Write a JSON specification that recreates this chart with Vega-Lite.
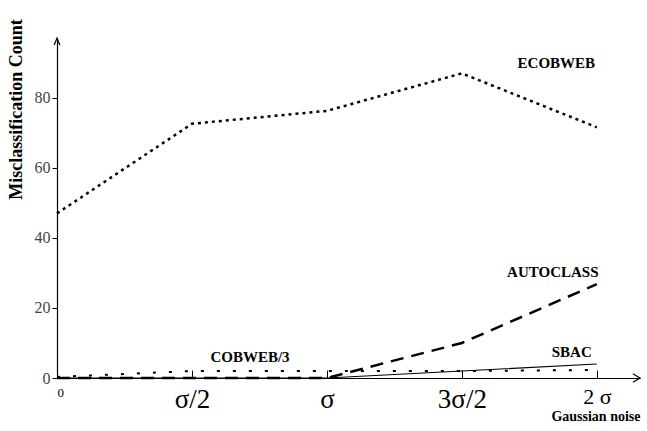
{
  "$schema": "https://vega.github.io/schema/vega-lite/v6.json",
  "width": 583,
  "height": 340,
  "autosize": {"type": "none"},
  "padding": {"left": 57, "top": 38, "right": 7, "bottom": 53},
  "config": {"view": {"stroke": null}, "font": "Liberation Serif"},
  "datasets": {
    "lines": [
      {"series": "ECOBWEB", "x": 0, "y": 47},
      {"series": "ECOBWEB", "x": 0.5, "y": 72.6},
      {"series": "ECOBWEB", "x": 1, "y": 76.3},
      {"series": "ECOBWEB", "x": 1.5, "y": 87},
      {"series": "ECOBWEB", "x": 2, "y": 71.6},
      {"series": "AUTOCLASS", "x": 0, "y": 0},
      {"series": "AUTOCLASS", "x": 0.5, "y": 0},
      {"series": "AUTOCLASS", "x": 1, "y": 0},
      {"series": "AUTOCLASS", "x": 1.5, "y": 10},
      {"series": "AUTOCLASS", "x": 2, "y": 26.8},
      {"series": "SBAC", "x": 0, "y": 0},
      {"series": "SBAC", "x": 0.5, "y": 0},
      {"series": "SBAC", "x": 1, "y": 0},
      {"series": "SBAC", "x": 1.5, "y": 2},
      {"series": "SBAC", "x": 2, "y": 4},
      {"series": "COBWEB/3", "x": 0, "y": 0.3},
      {"series": "COBWEB/3", "x": 0.5, "y": 2},
      {"series": "COBWEB/3", "x": 1, "y": 2},
      {"series": "COBWEB/3", "x": 1.5, "y": 2},
      {"series": "COBWEB/3", "x": 2, "y": 2.3}
    ],
    "labels": [
      {"text": "ECOBWEB", "x": 1.85, "y": 90},
      {"text": "AUTOCLASS", "x": 1.837, "y": 30.3},
      {"text": "SBAC", "x": 1.907, "y": 7.4},
      {"text": "COBWEB/3", "x": 0.715, "y": 6}
    ],
    "arrows": [
      {"axis": "x", "x": 2.16, "y": 0},
      {"axis": "y", "x": 0, "y": 97.1}
    ]
  },
  "encoding": {
    "x": {
      "field": "x", "type": "quantitative",
      "scale": {"domain": [0, 2.16], "nice": false, "zero": false},
      "axis": {
        "values": [0, 0.5, 1, 1.5, 2],
        "labelExpr": "datum.value == 0 ? '0' : datum.value == 0.5 ? 'σ/2' : datum.value == 1 ? 'σ' : datum.value == 1.5 ? '3σ/2' : '2 σ'",
        "labelFontSize": {"condition": [{"test": "datum.value == 0", "value": 13}, {"test": "datum.value == 2", "value": 22}], "value": 27},
        "labelColor": "black",
        "labelFont": "Liberation Serif",
        "labelPadding": 16,
        "labelBaseline": "top",
        "tickSize": -8,
        "tickColor": "black",
        "domainColor": "black",
        "domainWidth": 1.2,
        "grid": false,
        "title": "Gaussian noise",
        "titleFont": "Liberation Serif",
        "titleFontWeight": "bold",
        "titleFontSize": 14,
        "titleColor": "black",
        "titleAnchor": "end",
        "titleAlign": "right",
        "titleBaseline": "middle",
        "titleX": 583,
        "titleY": 38
      }
    },
    "y": {
      "field": "y", "type": "quantitative",
      "scale": {"domain": [0, 97.1], "nice": false},
      "axis": {
        "values": [0, 20, 40, 60, 80],
        "labelFontSize": 16,
        "labelColor": "#444",
        "labelFont": "Liberation Serif",
        "labelPadding": 2,
        "tickSize": 5,
        "tickColor": "black",
        "domainColor": "black",
        "domainWidth": 1.2,
        "grid": false,
        "title": "Misclassification Count",
        "titleFont": "Liberation Serif",
        "titleFontWeight": "bold",
        "titleFontSize": 18,
        "titleColor": "black",
        "titleAngle": -90,
        "titleAlign": "center",
        "titleBaseline": "middle",
        "titleX": -41,
        "titleY": 71
      }
    }
  },
  "layer": [
    {
      "data": {"name": "lines"},
      "transform": [{"filter": "datum.series == 'ECOBWEB'"}],
      "mark": {"type": "line", "color": "black", "strokeWidth": 2.5, "strokeDash": [3, 4]}
    },
    {
      "data": {"name": "lines"},
      "transform": [{"filter": "datum.series == 'AUTOCLASS'"}],
      "mark": {"type": "line", "color": "black", "strokeWidth": 2.5, "strokeDash": [13, 8]}
    },
    {
      "data": {"name": "lines"},
      "transform": [{"filter": "datum.series == 'SBAC'"}],
      "mark": {"type": "line", "color": "black", "strokeWidth": 1.2}
    },
    {
      "data": {"name": "lines"},
      "transform": [{"filter": "datum.series == 'COBWEB/3'"}],
      "mark": {"type": "line", "color": "black", "strokeWidth": 2, "strokeDash": [3, 13]}
    },
    {
      "data": {"name": "labels"},
      "mark": {"type": "text", "font": "Liberation Serif", "fontWeight": "bold", "fontSize": 15, "color": "black", "align": "center", "baseline": "middle"},
      "encoding": {"text": {"field": "text"}}
    },
    {
      "data": {"name": "arrows"},
      "transform": [{"filter": "datum.axis == 'x'"}],
      "mark": {"type": "point", "shape": "M-1,-0.6L0,0L-1,0.6", "filled": false, "stroke": "black", "strokeWidth": 1.2, "size": 200, "opacity": 1}
    },
    {
      "data": {"name": "arrows"},
      "transform": [{"filter": "datum.axis == 'y'"}],
      "mark": {"type": "point", "shape": "M-0.4,1L0,0L0.4,1", "filled": false, "stroke": "black", "strokeWidth": 1.2, "size": 200, "opacity": 1}
    }
  ]
}
